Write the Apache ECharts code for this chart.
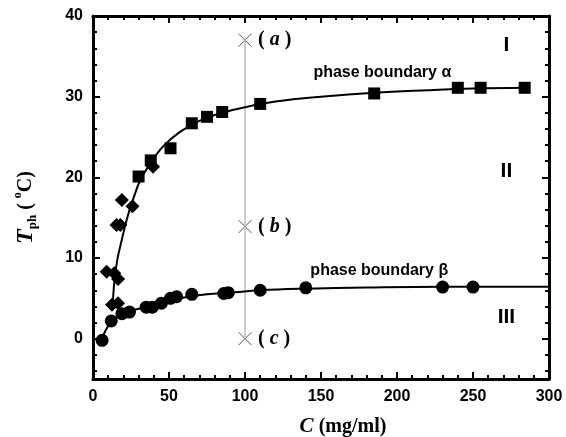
<!DOCTYPE html>
<html>
<head>
<meta charset="utf-8">
<script src="https://cdn.jsdelivr.net/npm/echarts@6/dist/echarts.min.js"></script>
<style>
  html, body { margin: 0; padding: 0; background: #fff; }
  #main { width: 566px; height: 437px; }
</style>
</head>
<body>
<div id="main"></div>
<script>
// phase boundary alpha (squares)
var squareC = [30, 38, 51, 65, 75, 85, 110, 185, 240, 255, 284]
var squareT = [20.1, 22.1, 23.6, 26.7, 27.5, 28.1, 29.1, 30.4, 31.1, 31.1, 31.1]
// diamonds
var diamondC = [19, 26, 39.5, 15.5, 18, 9, 14, 16.5, 12.5, 16.5]
var diamondT = [17.2, 16.4, 21.3, 14.1, 14.1, 8.3, 8.1, 7.4, 4.2, 4.4]
// phase boundary beta (circles)
var circleC = [6, 12, 19, 24, 35, 39, 45, 51, 55, 65, 86, 89, 110, 140, 230, 250]
var circleT = [-0.2, 2.2, 3.1, 3.3, 3.9, 3.9, 4.4, 5.0, 5.2, 5.5, 5.6, 5.7, 6.0, 6.3, 6.4, 6.4]
// fitted curves
var alphaC = [13, 14, 16, 19, 23, 27, 31, 38, 46, 57, 70, 85, 100, 120, 150, 185, 220, 250, 284]
var alphaT = [4, 7, 9.8, 12.3, 15.3, 17.6, 19.6, 21.8, 23.8, 25.6, 27.0, 28.0, 28.7, 29.4, 30.0, 30.5, 30.8, 31.0, 31.1]
var betaC = [5, 12, 20, 30, 40, 50, 60, 75, 90, 110, 140, 180, 230, 300]
var betaT = [-0.4, 2.1, 3.1, 3.7, 4.2, 4.7, 5.1, 5.5, 5.7, 6.0, 6.2, 6.35, 6.45, 6.45]
// points (a) (b) (c) at C = 100
var markC = [100, 100, 100]
var markT = [37, 13.9, 0]
var markNames = ['a', 'b', 'c']
var guideT = [37.3, 0]
// region numerals and boundary labels
var regionNames = ['I', 'II', 'III']
var regionC = [272, 272, 272]
var regionT = [36.4, 20.7, 2.6]
var boundaryNames = ['phase boundary \u03b1', 'phase boundary \u03b2']
var boundaryC = [145, 143]
var boundaryT = [33, 8.4]
// axis ticks
var xMin = 0
var xMax = 300
var xStep = 50
var yMin = -5
var yMax = 40
var yMajor = [0, 10, 20, 30, 40]
var yMinor = [-4, -2, 2, 4, 6, 8, 12, 14, 16, 18, 22, 24, 26, 28, 32, 34, 36, 38]

function pairs (xs, ys) {
  var out = []
  for (var i = 0; i < xs.length; i++) out.push([xs[i], ys[i]])
  return out
}

var tickFont = { fontFamily: 'Liberation Sans', fontWeight: 'bold', fontSize: 16, color: '#000' }

function xAx (pos, showLabel, extra) {
  var a = {
    type: 'value', position: pos, min: xMin, max: xMax, interval: xStep,
    splitLine: { show: false },
    axisLine: { show: true, onZero: false, lineStyle: { color: '#000', width: 3 } },
    axisTick: { show: true, inside: true, length: 7, lineStyle: { color: '#000', width: 2 } },
    minorTick: { show: true, splitNumber: 5, length: 4, lineStyle: { color: '#000', width: 2 } },
    axisLabel: Object.assign({ show: showLabel, margin: 10 }, tickFont)
  }
  return Object.assign(a, extra || {})
}

function yAx (pos, ticks, len, showLine, showLabel, extra) {
  var a = {
    type: 'value', position: pos, min: yMin, max: yMax,
    splitLine: { show: false },
    axisLine: { show: showLine, onZero: false, lineStyle: { color: '#000', width: 3 } },
    axisTick: { show: true, inside: true, length: len, customValues: ticks, lineStyle: { color: '#000', width: 2 } },
    axisLabel: Object.assign({ show: showLabel, margin: 10, customValues: yMajor }, tickFont)
  }
  return Object.assign(a, extra || {})
}

var serif = 'Liberation Serif'

var option = {
  animation: false,
  backgroundColor: '#fff',
  grid: { left: 93, top: 16, right: 17, bottom: 58, containLabel: false, outerBoundsMode: 'none' },
  xAxis: [
    xAx('bottom', true, {
      name: '{c|C}{u| (mg/ml)}',
      nameLocation: 'middle',
      nameGap: 37,
      nameTextStyle: {
        padding: [0, 0, 0, 44],
        rich: {
          c: { fontFamily: serif, fontStyle: 'italic', fontWeight: 'bold', fontSize: 21, color: '#000' },
          u: { fontFamily: serif, fontWeight: 'bold', fontSize: 20, color: '#000' }
        }
      }
    }),
    xAx('top', false)
  ],
  yAxis: [
    yAx('left', yMajor, 7, true, true, {
      name: '{t|T}{s|ph}{n| ( }{o|o}{n|C)}',
      nameLocation: 'middle',
      nameRotate: 90,
      nameGap: 54,
      nameTextStyle: {
        padding: [0, 20, 0, 0],
        rich: {
          t: { fontFamily: serif, fontStyle: 'italic', fontWeight: 'bold', fontSize: 24, color: '#000' },
          s: { fontFamily: serif, fontWeight: 'bold', fontSize: 13, color: '#000', verticalAlign: 'bottom', padding: [14, 0, 0, 0] },
          n: { fontFamily: serif, fontWeight: 'bold', fontSize: 20, color: '#000' },
          o: { fontFamily: serif, fontWeight: 'bold', fontSize: 12, color: '#000', verticalAlign: 'top', padding: [0, 0, 12, 0] }
        }
      }
    }),
    yAx('right', yMajor, 7, true, false),
    yAx('left', yMinor, 4, false, false),
    yAx('right', yMinor, 4, false, false)
  ],
  series: [
    {
      name: 'guide', type: 'line', silent: true, symbol: 'none',
      data: pairs([100, 100], guideT),
      lineStyle: { color: '#bdbdbd', width: 1.5 }
    },
    {
      name: 'alpha curve', type: 'line', smooth: 0.4, symbol: 'none',
      data: pairs(alphaC, alphaT),
      lineStyle: { color: '#000', width: 2 }
    },
    {
      name: 'beta curve', type: 'line', smooth: 0.4, symbol: 'none',
      data: pairs(betaC, betaT),
      lineStyle: { color: '#000', width: 2 }
    },
    {
      name: 'squares', type: 'scatter', symbol: 'rect', symbolSize: 12,
      data: pairs(squareC, squareT),
      itemStyle: { color: '#000', opacity: 1 }
    },
    {
      name: 'diamonds', type: 'scatter', symbol: 'diamond', symbolSize: 14,
      data: pairs(diamondC, diamondT),
      itemStyle: { color: '#000', opacity: 1 }
    },
    {
      name: 'circles', type: 'scatter', symbol: 'circle', symbolSize: 13,
      data: pairs(circleC, circleT),
      itemStyle: { color: '#000', opacity: 1 }
    },
    {
      name: 'marks', type: 'scatter', symbol: 'path://M0,0L10,10M10,0L0,10', symbolSize: 13,
      data: markC.map(function (c, i) { return { value: [c, markT[i]], name: markNames[i] } }),
      itemStyle: { color: 'rgba(0,0,0,0)', borderColor: '#555', borderWidth: 1, opacity: 1 },
      label: {
        show: true, position: 'right', distance: 6,
        formatter: function (p) { return '{p|( }{l|' + p.name + '}{p| )}' },
        rich: {
          p: { fontFamily: serif, fontWeight: 'bold', fontSize: 20, color: '#000' },
          l: { fontFamily: serif, fontStyle: 'italic', fontWeight: 'bold', fontSize: 20, color: '#000' }
        }
      }
    },
    {
      name: 'regions', type: 'scatter', symbolSize: 0, silent: true,
      data: regionC.map(function (c, i) { return { value: [c, regionT[i]], name: regionNames[i] } }),
      itemStyle: { opacity: 1 },
      label: {
        show: true, position: 'inside', formatter: '{b}', opacity: 1,
        fontFamily: 'Liberation Sans', fontWeight: 'bold', fontSize: 21, color: '#000'
      }
    },
    {
      name: 'boundaries', type: 'scatter', symbolSize: 0, silent: true,
      data: boundaryC.map(function (c, i) { return { value: [c, boundaryT[i]], name: boundaryNames[i] } }),
      itemStyle: { opacity: 1 },
      label: {
        show: true, position: 'right', distance: 0, formatter: '{b}', opacity: 1,
        fontFamily: 'Liberation Sans', fontWeight: 'bold', fontSize: 16, color: '#000'
      }
    }
  ]
}

var chart = echarts.init(document.getElementById('main'), null, { renderer: 'canvas' })
chart.setOption(option)
</script>
</body>
</html>
